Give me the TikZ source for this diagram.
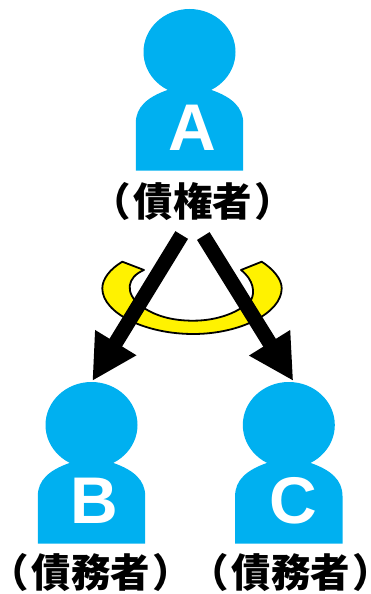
\documentclass[tikz,border=0pt]{standalone}
\usepackage{fontspec}
\setmainfont{Liberation Sans}
\newfontfamily\cjk{Noto Sans CJK JP Black}
\usetikzlibrary{arrows.meta}
\definecolor{personaazul}{RGB}{0,176,240}
\tikzset{
  persona/.pic={
    \fill[personaazul] (0,0) ellipse (46 and 43);
    \fill[personaazul] (-53.7,118.5) -- (-53.7,71) .. controls (-53.7,55) and (-42,45) .. (-22,38)
      -- (22,38) .. controls (42,45) and (53.7,55) .. (53.7,71) -- (53.7,118.5) -- cycle;
  },
  letra/.style={text=white, font=\fontsize{66}{66}\selectfont\bfseries, inner sep=0pt},
  etiqueta/.style={font=\fontsize{39.5}{40}\cjk\selectfont, inner sep=0pt},
  flecha/.style={line width=14.8, -{Triangle[length=45,width=45]}}
}

\begin{document}
\begin{tikzpicture}[x=1pt,y=-1pt]
  \useasboundingbox (0,0) rectangle (371,594);

  % Personas
  \pic at (189.5,52) {persona};
  \pic at (91.5,425) {persona};
  \pic at (288.8,425) {persona};

  % Letras
  \node[letra] (letraA) at (192.8,127.5) {A};
  \node[letra] (letraB) at (94.7,500.5) {B};
  \node[letra] (letraC) at (293.3,500.5) {C};

  % Etiquetas
  \node[etiqueta] (acreedor) at (193,202) {（\kern2.5pt 債権者\kern2.5pt ）};
  \node[etiqueta] (deudorB) at (91,572.5) {（\kern2.5pt 債務者\kern2.5pt ）};
  \node[etiqueta] (deudorC) at (291,572.5) {（\kern2.5pt 債務者\kern2.5pt ）};

  % Flecha curva amarilla
  \draw[fill=yellow, line width=1.8, line join=round] (122.3,261.7) -- (144,270)
    .. controls (127,277) and (124,293) .. (141,306)
    .. controls (155,316) and (172,320.7) .. (193.3,320.7)
    .. controls (218,320.7) and (240,312) .. (251,300)
    .. controls (255,293) and (254,280) .. (241,270)
    -- (261.7,261.7)
    .. controls (273,269) and (281.7,279) .. (281.7,288.3)
    .. controls (281.7,313) and (240,334) .. (193.3,334)
    .. controls (145,334) and (102.3,313) .. (102.3,288.3)
    .. controls (102.3,279) and (110,269) .. (122.3,261.7) -- cycle;

  % Flechas negras
  \coordinate (inicioB) at (181.7,235);
  \coordinate (finB) at (92.3,381);
  \coordinate (inicioC) at (203.3,236);
  \coordinate (finC) at (293.3,381);
  \draw[flecha] (inicioB) -- (finB);
  \draw[flecha] (inicioC) -- (finC);

\end{tikzpicture}
\end{document}
